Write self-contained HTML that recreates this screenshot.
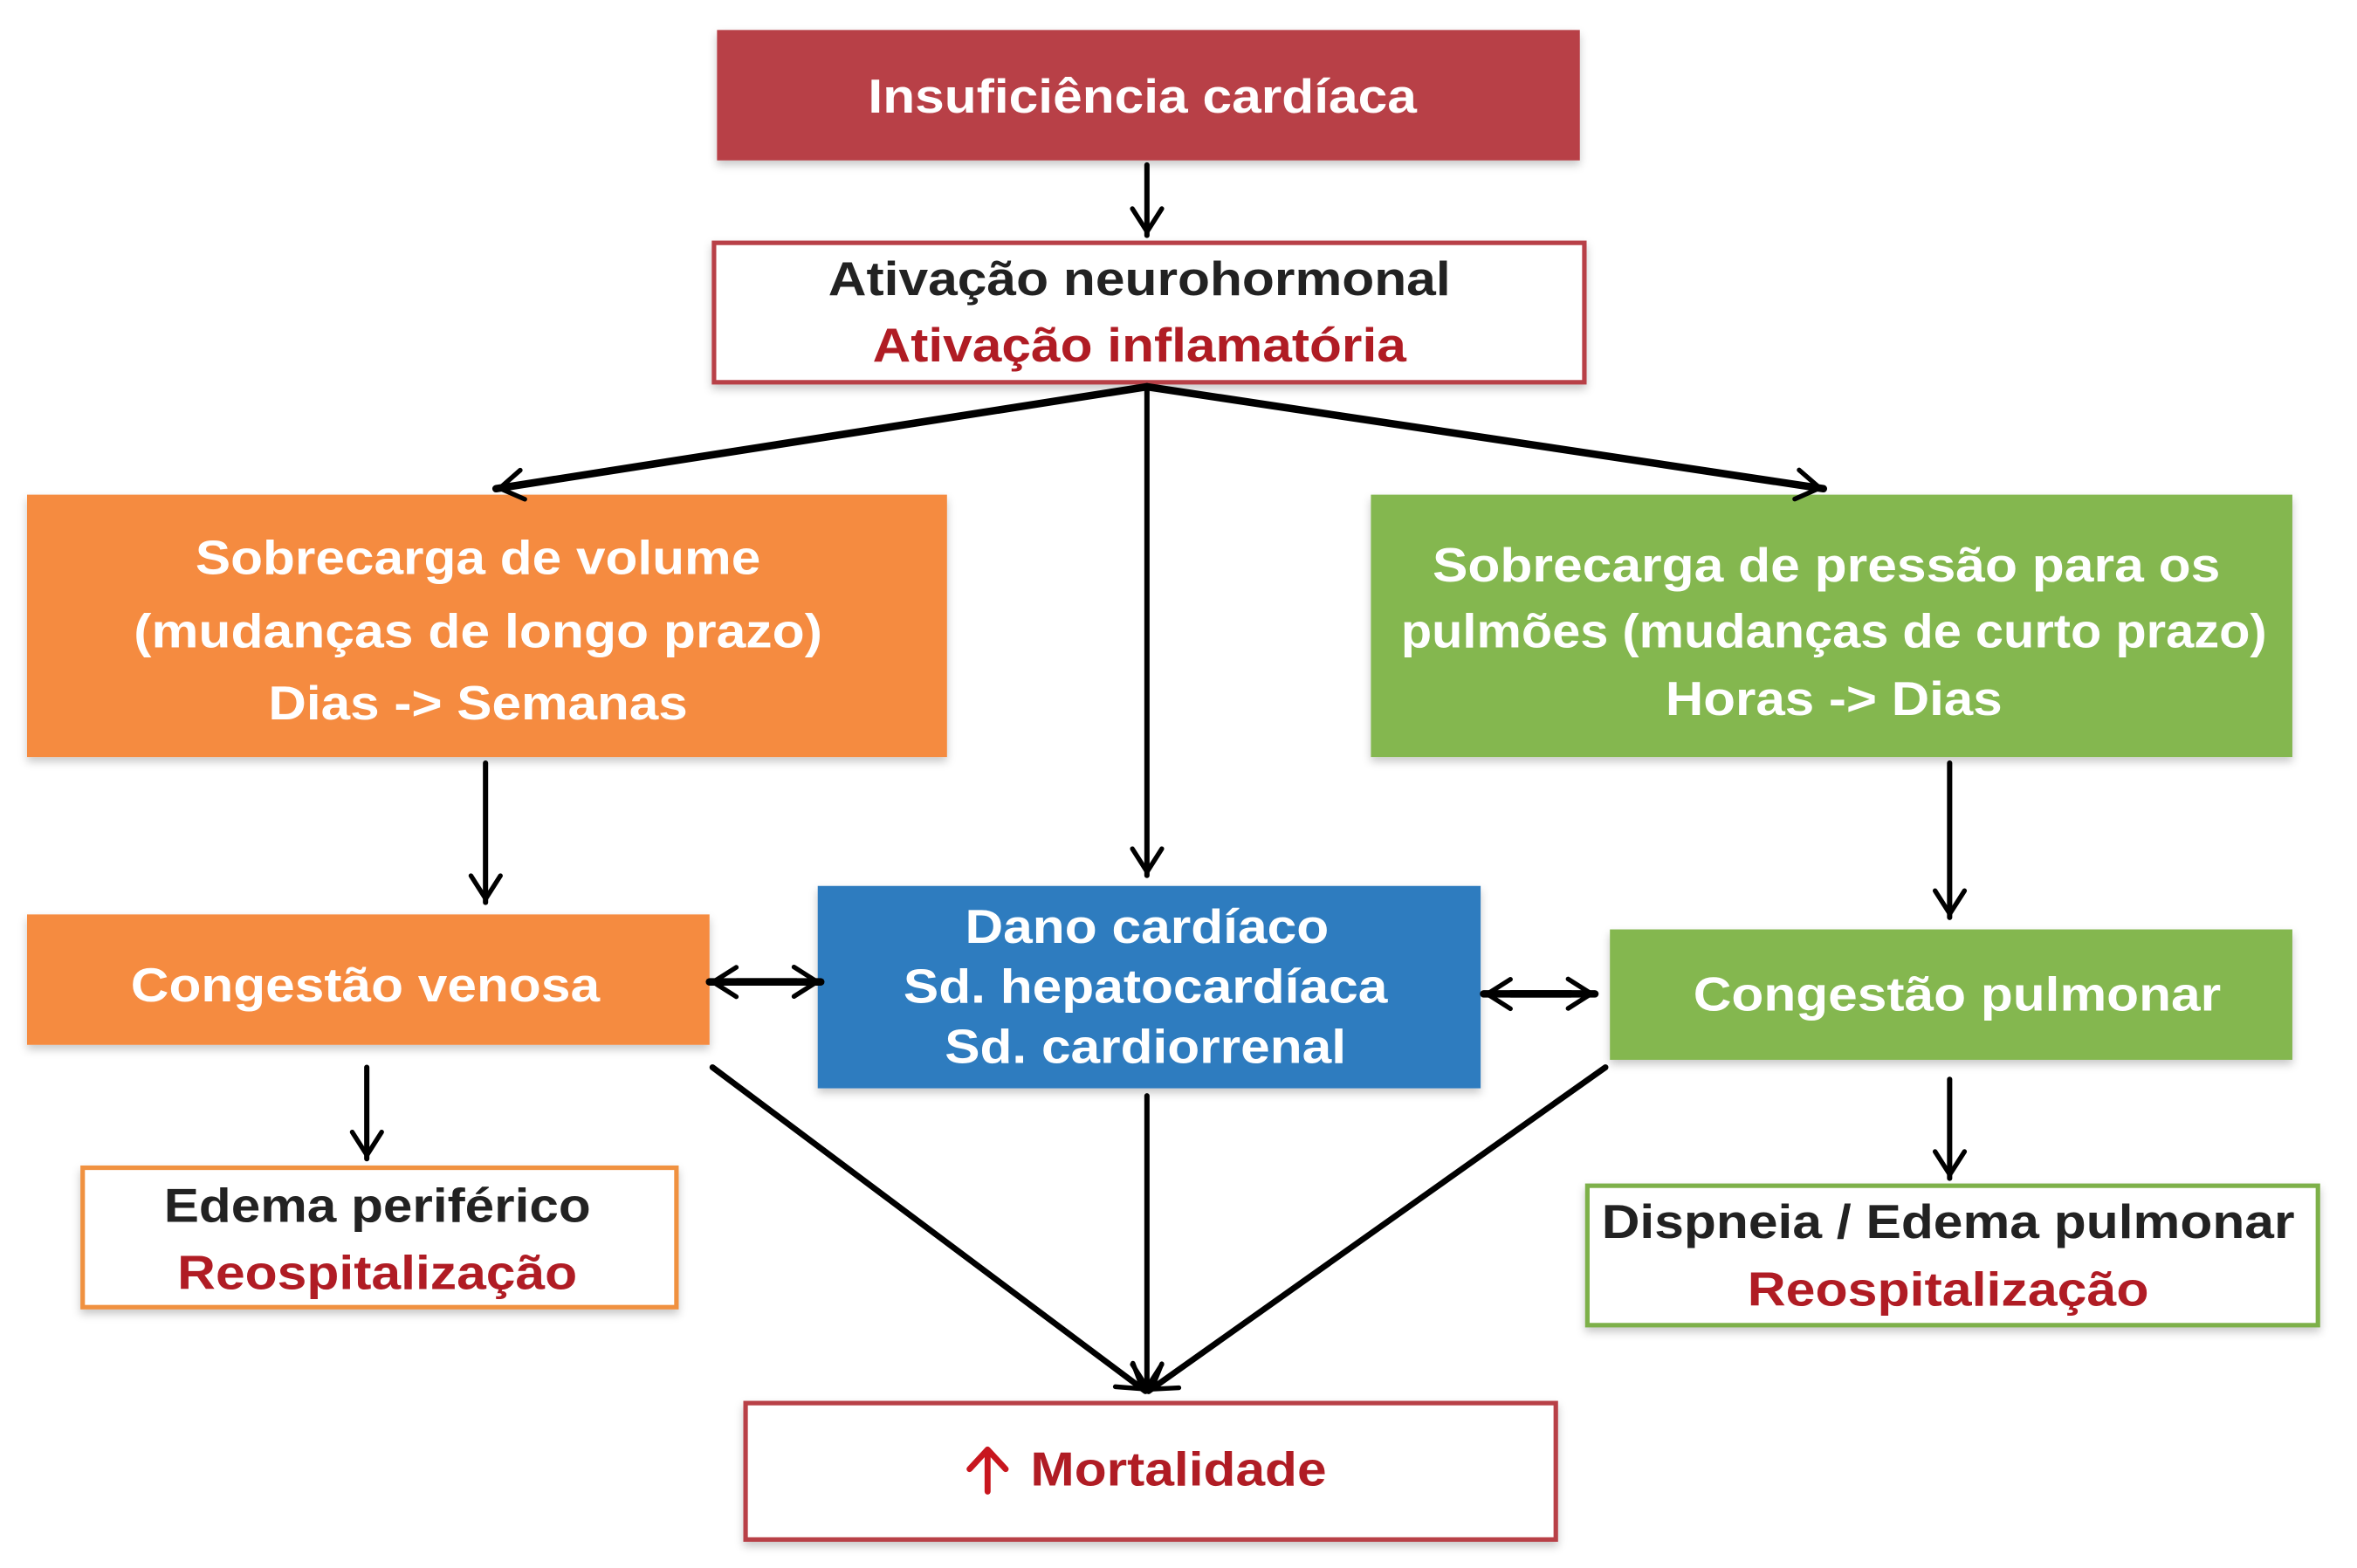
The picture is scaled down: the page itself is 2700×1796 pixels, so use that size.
<!DOCTYPE html>
<html><head><meta charset="utf-8"><style>
html,body{margin:0;padding:0;background:#fff;}
svg{display:block;}
text{font-family:"Liberation Sans",Arial,sans-serif;font-weight:bold;font-size:32px;}
</style></head><body>
<svg width="2700" height="1796" viewBox="0 0 1568 1046" preserveAspectRatio="none" xmlns="http://www.w3.org/2000/svg">
<defs>
<filter id="sh" x="-5%" y="-10%" width="110%" height="125%">
<feDropShadow dx="0" dy="3" stdDeviation="3" flood-color="#000" flood-opacity="0.22"/>
</filter>
<marker id="ah" markerWidth="10" markerHeight="10" refX="8" refY="5" orient="auto" markerUnits="userSpaceOnUse" viewBox="0 0 10 10" overflow="visible">
<polyline points="-14,-9 8,5 -14,19" fill="none" stroke="#000" stroke-width="4.5" stroke-linecap="round" stroke-linejoin="round" transform="translate(0,0) scale(0.7) translate(0,2)"/>
</marker>
</defs>
<rect x="0" y="0" width="1568" height="1046" fill="#fff"/>
<g filter="url(#sh)">
<rect x="477" y="20" width="574" height="87" fill="#b83f46"/>
<rect x="475" y="162" width="579" height="93" fill="#fff" stroke="#b83f46" stroke-width="3"/>
<rect x="18" y="330" width="612" height="175" fill="#f58b3f"/>
<rect x="912" y="330" width="613" height="175" fill="#84b750"/>
<rect x="18" y="610" width="454" height="87" fill="#f58b3f"/>
<rect x="544" y="591" width="441" height="135" fill="#2f7bbf"/>
<rect x="1071" y="620" width="454" height="87" fill="#84b750"/>
<rect x="55" y="779" width="395" height="93" fill="#fff" stroke="#f0913f" stroke-width="3"/>
<rect x="1056" y="791" width="486" height="93" fill="#fff" stroke="#7db049" stroke-width="3"/>
<rect x="496" y="936" width="539" height="91" fill="#fff" stroke="#b83f46" stroke-width="3"/>
</g>
<g stroke="#000" stroke-width="3.5" fill="none" stroke-linecap="round">
<line x1="763" y1="110" x2="763" y2="157" marker-end="url(#ah)"/>
<line x1="763" y1="258" x2="330" y2="326" stroke-width="5" marker-end="url(#ah)"/>
<line x1="763" y1="258" x2="1213" y2="326" stroke-width="5" marker-end="url(#ah)"/>
<line x1="763" y1="258" x2="763" y2="584" marker-end="url(#ah)"/>
<line x1="323" y1="509" x2="323" y2="602" marker-end="url(#ah)"/>
<line x1="1297" y1="509" x2="1297" y2="612" marker-end="url(#ah)"/>
<line x1="244" y1="712" x2="244" y2="773" marker-end="url(#ah)"/>
<line x1="1297" y1="720" x2="1297" y2="786" marker-end="url(#ah)"/>
<line x1="490" y1="655" x2="546" y2="655" stroke-width="5" marker-end="url(#ah)"/>
<line x1="530" y1="655" x2="472" y2="655" stroke-width="5" marker-end="url(#ah)"/>
<line x1="1005" y1="663" x2="1061" y2="663" stroke-width="5" marker-end="url(#ah)"/>
<line x1="1045" y1="663" x2="987" y2="663" stroke-width="5" marker-end="url(#ah)"/>
<line x1="474" y1="712" x2="762" y2="928" stroke-width="4" marker-end="url(#ah)"/>
<line x1="763" y1="731" x2="763" y2="928" marker-end="url(#ah)"/>
<line x1="1068" y1="712" x2="764" y2="928" stroke-width="4" marker-end="url(#ah)"/>
</g>
<g text-anchor="middle" lengthAdjust="spacingAndGlyphs">
<text x="760" y="75" fill="#fff" textLength="365" lengthAdjust="spacingAndGlyphs">Insuficiência cardíaca</text>
<text x="758" y="197" fill="#222" textLength="414" lengthAdjust="spacingAndGlyphs">Ativação neurohormonal</text>
<text x="758" y="241" fill="#b01c24" textLength="355" lengthAdjust="spacingAndGlyphs">Ativação inflamatória</text>
<text x="318" y="383" fill="#fff" textLength="376" lengthAdjust="spacingAndGlyphs">Sobrecarga de volume</text>
<text x="318" y="432" fill="#fff" textLength="458" lengthAdjust="spacingAndGlyphs">(mudanças de longo prazo)</text>
<text x="318" y="480" fill="#fff" textLength="279" lengthAdjust="spacingAndGlyphs">Dias -&gt; Semanas</text>
<text x="1215" y="388" fill="#fff" textLength="524" lengthAdjust="spacingAndGlyphs">Sobrecarga de pressão para os</text>
<text x="1220" y="432" fill="#fff" textLength="576" lengthAdjust="spacingAndGlyphs">pulmões (mudanças de curto prazo)</text>
<text x="1220" y="477" fill="#fff" textLength="224" lengthAdjust="spacingAndGlyphs">Horas -&gt; Dias</text>
<text x="243" y="668" fill="#fff" textLength="312" lengthAdjust="spacingAndGlyphs">Congestão venosa</text>
<text x="763" y="629" fill="#fff" textLength="242" lengthAdjust="spacingAndGlyphs">Dano cardíaco</text>
<text x="762" y="669" fill="#fff" textLength="322" lengthAdjust="spacingAndGlyphs">Sd. hepatocardíaca</text>
<text x="762" y="709" fill="#fff" textLength="267" lengthAdjust="spacingAndGlyphs">Sd. cardiorrenal</text>
<text x="1302" y="674" fill="#fff" textLength="351" lengthAdjust="spacingAndGlyphs">Congestão pulmonar</text>
<text x="251" y="815" fill="#222" textLength="284" lengthAdjust="spacingAndGlyphs">Edema periférico</text>
<text x="251" y="860" fill="#b01c24" textLength="266" lengthAdjust="spacingAndGlyphs">Reospitalização</text>
<text x="1296" y="826" fill="#222" textLength="461" lengthAdjust="spacingAndGlyphs">Dispneia / Edema pulmonar</text>
<text x="1296" y="871" fill="#b01c24" textLength="267" lengthAdjust="spacingAndGlyphs">Reospitalização</text>
<text x="784" y="991" fill="#b01c24" textLength="197" lengthAdjust="spacingAndGlyphs">Mortalidade</text>
</g>
<g stroke="#c8161e" stroke-width="4" fill="none" stroke-linecap="round" stroke-linejoin="round">
<line x1="657" y1="995" x2="657" y2="968"/>
<polyline points="645,980 657,967 669,980"/>
</g>
</svg>
</body></html>
